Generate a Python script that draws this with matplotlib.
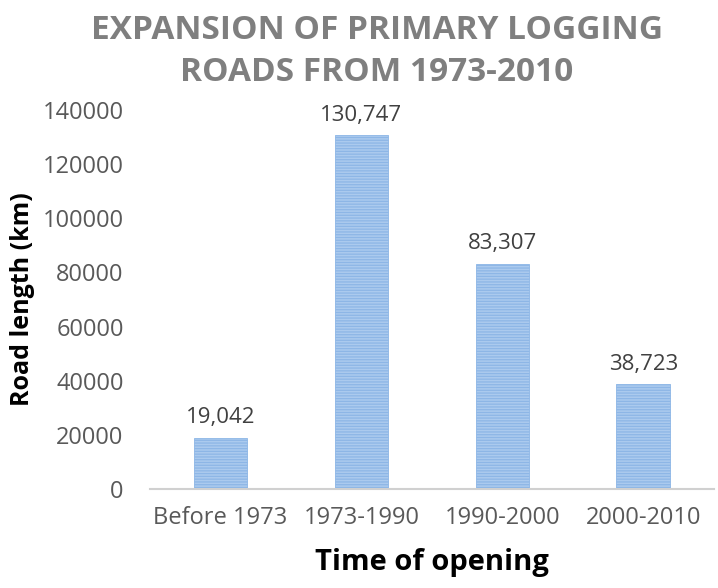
import matplotlib.pyplot as plt
import matplotlib as mpl

periods = ["Before 1973", "1973-1990", "1990-2000", "2000-2010"]
road_km = [19042, 130747, 83307, 38723]
y_ticks = [0, 20000, 40000, 60000, 80000, 100000, 120000, 140000]

plt.rcParams['font.family'] = ['Open Sans', 'DejaVu Sans']
mpl.rcParams['hatch.color'] = '#6f9fd8'
mpl.rcParams['hatch.linewidth'] = 0.9

fig = plt.figure(figsize=(7.18, 5.88), dpi=100)
ax = fig.add_axes([0.209, 0.168, 0.785, 0.645])

x = range(len(periods))
bars = ax.bar(x, road_km, width=0.38, color='#abcaee', edgecolor='#8db6e6',
              hatch='------', linewidth=0.6)

for xi, v in zip(x, road_km):
    ax.text(xi, v + 3500, f"{v:,}", ha='center', va='bottom',
            fontsize=16, color='#404040')

ax.set_xlim(-0.5, len(periods) - 0.5)
ax.set_ylim(0, 140000)
ax.set_yticks(y_ticks)
ax.set_yticklabels([str(t) for t in y_ticks])
ax.set_xticks(list(x))
ax.set_xticklabels(periods)
ax.tick_params(axis='both', length=0, labelsize=17, colors='#595959')
ax.tick_params(axis='y', pad=19)
ax.tick_params(axis='x', pad=12)

for s in ['top', 'right', 'left']:
    ax.spines[s].set_visible(False)
ax.spines['bottom'].set_color('#d0d0d0')
ax.spines['bottom'].set_linewidth(1.5)

ax.set_ylabel("Road length (km)", fontsize=18, fontweight='bold', color='black')
ax.yaxis.set_label_coords(-0.205, 0.5)
ax.set_xlabel("Time of opening", fontsize=21, fontweight='bold', color='black', labelpad=13)

fig.text(0.525, 0.913, "EXPANSION OF PRIMARY LOGGING\nROADS FROM 1973-2010",
         ha='center', va='center', fontsize=24, fontweight='bold',
         color='#7f7f7f', linespacing=1.35)

fig.savefig("out.png", dpi=100, facecolor='white')
